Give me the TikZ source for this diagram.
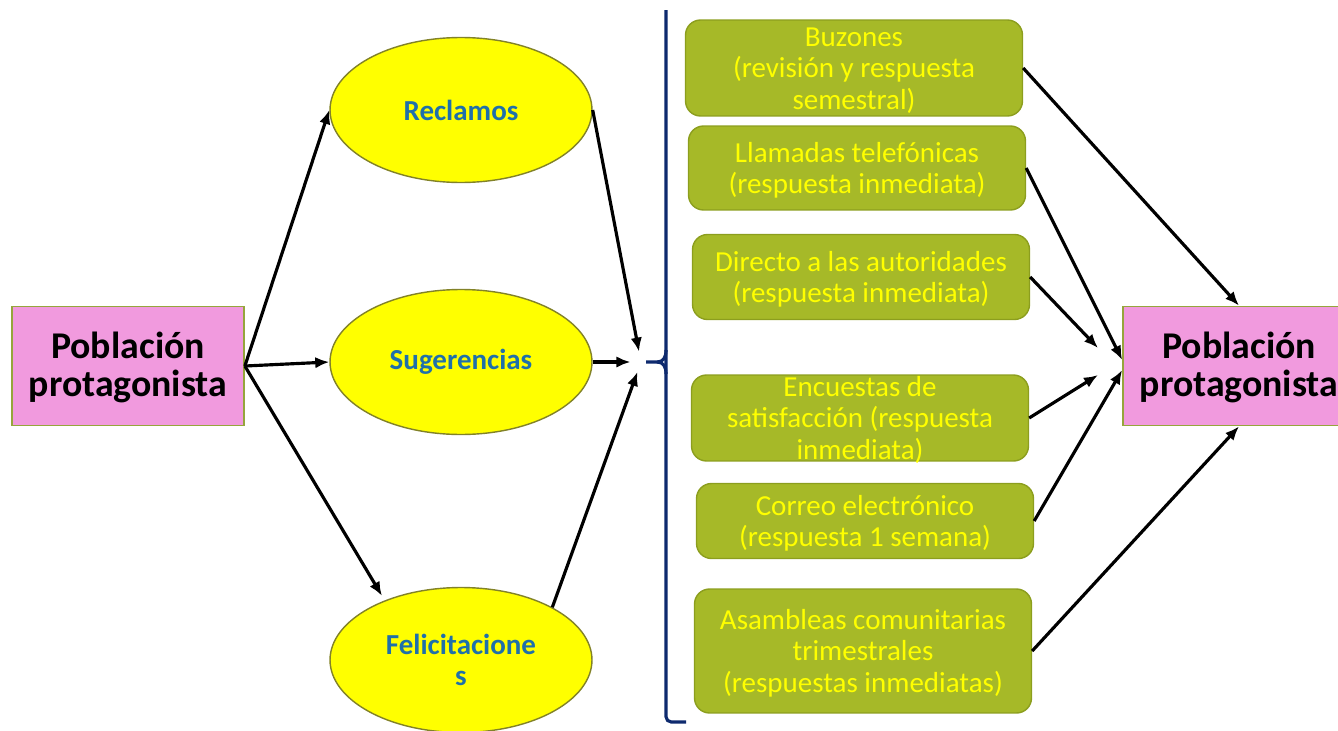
\documentclass[tikz,border=0pt]{standalone}
\usepackage{fontspec}
\setmainfont{Carlito}
\usetikzlibrary{arrows.meta,positioning,shapes.geometric}
\definecolor{pinkbox}{RGB}{241,154,222}
\definecolor{olivedge}{RGB}{150,165,60}
\definecolor{leafgreen}{RGB}{166,185,40}
\definecolor{leafedge}{RGB}{140,158,30}
\definecolor{lemon}{RGB}{255,255,0}
\definecolor{capsuleedge}{RGB}{130,130,40}
\definecolor{inkblue}{RGB}{31,112,170}
\definecolor{navyline}{RGB}{14,42,110}
% centred lines, set a little lower than the box middle
\newcommand{\sunk}[1]{\raisebox{-2pt}[\height][\depth]{\begin{tabular}{@{}c@{}}#1\end{tabular}}}

\begin{document}
\begin{tikzpicture}[x=0.02cm, y=-0.02cm,
  popbox/.style={draw=olivedge, line width=1pt, fill=pinkbox, minimum width=4.64cm, minimum height=2.38cm, align=center, font=\fontsize{21.5}{21.5}\selectfont\bfseries},
  channel/.style={ellipse, draw=capsuleedge, line width=0.8pt, fill=lemon, minimum width=5.24cm, minimum height=2.9cm, inner sep=0pt, align=center, text=inkblue, font=\fontsize{16.5}{18}\selectfont\bfseries},
  means/.style={draw=leafedge, line width=0.8pt, fill=leafgreen, rounded corners=0.3cm, minimum width=6.74cm, inner sep=0pt, align=center, text=lemon, font=\fontsize{16.5}{18}\selectfont},
  link/.style={-{Latex[length=8pt,width=6.5pt]}, line width=1.8pt},
  brace/.style={draw=navyline, line width=1.8pt}]
\useasboundingbox (0,0) rectangle (1338,730);
\clip (0,0) rectangle (1338,730);

% source and target
\node[popbox] (src) at (128,366) {\sunk{Población\\protagonista}};
\node[popbox] (dest) at (1239,366) {\sunk{Población\\protagonista}};

% kinds of messages
\node[channel] (recl) at (461,110) {Reclamos};
\node[channel] (suge) at (461,362) {Sugerencias};
\node[channel] (feli) at (461,660) {Felicitacione\\s};
\coordinate (lmeet) at (641,362);

% ways of answering
\node[means, minimum height=1.92cm] (buzon) at (854,68) {\sunk{Buzones\\(revisión y respuesta\\semestral)}};
\node[means, minimum height=1.68cm] (llam) at (857,168) {\sunk{Llamadas telefónicas\\(respuesta inmediata)}};
\node[means, minimum height=1.7cm] (direc) at (861,277) {\sunk{Directo a las autoridades\\(respuesta inmediata)}};
\node[means, minimum height=1.72cm, inner ysep=-3pt] (encu) at (860,418) {\sunk{Encuestas de\\satisfacción (respuesta\\inmediata)}};
\node[means, minimum height=1.5cm] (corr) at (865,521) {\sunk{Correo electrónico\\(respuesta 1 semana)}};
\node[means, minimum height=2.48cm] (asam) at (863,651) {\sunk{Asambleas comunitarias\\trimestrales\\(respuestas inmediatas)}};
\coordinate (rin1) at (1098,348);
\coordinate (rin2) at (1098,375);

% bracket
\draw[brace, rounded corners=3pt] (666,10) -- (666,722) -- (686,722);
\draw[brace] (646,362) -- (657,362) .. controls (663,362) and (666,358) .. (666,350);
\draw[brace] (657,362) .. controls (663,362) and (666,366) .. (666,374);

% arrows
\draw[link] (src.east) -- (recl.west);
\draw[link] (src.east) -- (suge.west);
\draw[link, shorten >=3pt] (src.east) -- (feli.142);
\draw[link, shorten >=6pt] (recl.east) -- (lmeet);
\draw[link, shorten >=6pt] (suge.east) -- (lmeet);
\draw[link, shorten >=6pt] (feli.30) -- (lmeet);

\draw[link] (buzon.east) -- (dest.north);
\draw[link] (llam.east) -- (dest.177);
\draw[link] (direc.east) -- (rin1);
\draw[link] (encu.east) -- (rin2);
\draw[link] (corr.east) -- (dest.182);
\draw[link] (asam.east) -- (dest.south);
\end{tikzpicture}
\end{document}
